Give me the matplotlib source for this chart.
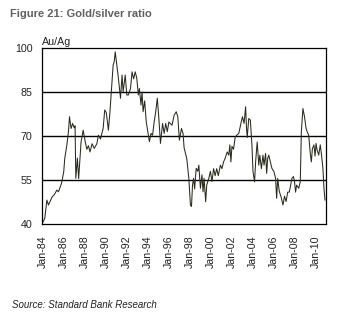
import matplotlib
matplotlib.use("Agg")
import matplotlib.pyplot as plt

plt.rcParams["font.family"] = ["Liberation Sans", "DejaVu Sans"]

# gold/silver ratio, decimal year -> ratio
years = [
    1984.0, 1984.2, 1984.4, 1984.55, 1984.9, 1985.1, 1985.35, 1985.5, 1985.67, 1985.8,
    1986.0, 1986.1, 1986.3, 1986.45, 1986.55, 1986.7, 1986.85, 1987.0, 1987.08, 1987.15,
    1987.3, 1987.42, 1987.55, 1987.65, 1987.85, 1988.05, 1988.2, 1988.35, 1988.5, 1988.7,
    1988.9, 1989.15, 1989.3, 1989.5, 1989.75, 1989.9, 1990.05, 1990.25, 1990.4, 1990.55,
    1990.7, 1990.8, 1990.9, 1991.05, 1991.2, 1991.4, 1991.55, 1991.65, 1991.85, 1992.0,
    1992.15, 1992.35, 1992.5, 1992.65, 1992.8, 1992.95, 1993.1, 1993.2, 1993.35, 1993.45,
    1993.55, 1993.7, 1993.85, 1994.0, 1994.15, 1994.3, 1994.45, 1994.6, 1994.75, 1994.9,
    1995.05, 1995.2, 1995.4, 1995.55, 1995.7, 1995.85, 1996.0, 1996.3, 1996.5, 1996.7,
    1996.85, 1997.0, 1997.1, 1997.2, 1997.35, 1997.45, 1997.55, 1997.7, 1997.9, 1998.05,
    1998.15, 1998.25, 1998.35, 1998.45, 1998.6, 1998.75, 1998.85, 1999.0, 1999.15, 1999.25,
    1999.35, 1999.5, 1999.6, 1999.8, 1999.95, 2000.1, 2000.25, 2000.4, 2000.55, 2000.7,
    2000.9, 2001.05, 2001.2, 2001.35, 2001.55, 2001.7, 2001.8, 2001.9, 2002.0, 2002.15,
    2002.3, 2002.45, 2002.65, 2002.85, 2003.0, 2003.15, 2003.3, 2003.38, 2003.45, 2003.6,
    2003.75, 2003.9, 2004.0, 2004.15, 2004.25, 2004.4, 2004.55, 2004.65, 2004.8, 2004.95,
    2005.05, 2005.2, 2005.3, 2005.4, 2005.5, 2005.65, 2005.8, 2006.0, 2006.15, 2006.25,
    2006.35, 2006.5, 2006.7, 2006.85, 2007.0, 2007.15, 2007.3, 2007.45, 2007.55, 2007.7,
    2007.85, 2007.95, 2008.05, 2008.15, 2008.35, 2008.5, 2008.6, 2008.75, 2008.9, 2009.05,
    2009.15, 2009.3, 2009.45, 2009.55, 2009.65, 2009.8, 2009.9, 2010.0, 2010.1, 2010.25,
    2010.4, 2010.52, 2010.65, 2010.75, 2010.85,
]
ratio = [
    40.5, 42.0, 48.2, 46.5, 49.3, 50.0, 51.6, 51.0, 52.7, 54.0,
    57.8, 62.4, 67.0, 71.5, 76.6, 72.6, 74.3, 72.8, 73.5, 55.6,
    62.5, 55.5, 62.4, 68.0, 72.0, 68.0, 65.5, 66.7, 64.6, 67.4,
    65.8, 67.4, 70.3, 69.0, 72.6, 78.9, 78.0, 72.0, 78.4, 86.3,
    94.2, 95.3, 98.7, 94.2, 89.7, 82.9, 90.8, 85.1, 90.8, 84.0,
    84.0, 86.2, 91.9, 89.5, 91.9, 89.7, 84.0, 86.2, 80.6, 85.0,
    78.3, 82.0, 74.8, 71.4, 68.1, 70.9, 70.3, 74.8, 78.3, 82.9,
    76.0, 67.5, 74.3, 70.9, 74.3, 71.5, 74.8, 73.7, 77.1, 78.3,
    76.6, 68.6, 70.5, 72.6, 70.9, 66.0, 64.6, 62.4, 55.6, 46.5,
    46.0, 53.3, 55.6, 52.0, 59.0, 58.0, 60.1, 52.2, 56.8, 51.0,
    55.6, 47.6, 53.3, 55.6, 58.0, 54.5, 58.9, 56.5, 58.9, 56.5,
    60.1, 58.9, 61.2, 62.4, 64.6, 63.5, 67.0, 61.2, 66.5, 65.5,
    69.5, 70.3, 70.9, 74.3, 76.6, 74.3, 80.0, 73.0, 69.5, 76.0,
    75.4, 67.0, 58.0, 54.4, 61.2, 68.0, 60.1, 63.5, 58.9, 63.5,
    60.1, 64.1, 57.3, 62.4, 63.5, 61.2, 59.0, 57.8, 55.6, 48.8,
    55.6, 51.2, 48.9, 46.5, 49.5, 47.7, 50.9, 50.9, 52.6, 55.6,
    56.2, 54.5, 50.9, 53.3, 52.2, 54.5, 71.5, 79.4, 76.6, 72.6,
    71.5, 70.3, 64.1, 61.2, 65.7, 67.0, 63.2, 67.5, 65.2, 63.5,
    67.0, 63.5, 59.0, 52.2, 48.2,
]

tick_years = list(range(1984, 2011, 2))
tick_labels = ["Jan-%02d" % (y % 100) for y in tick_years]

fig = plt.figure(figsize=(3.4, 3.36), dpi=100)
ax = fig.add_axes([0.124, 0.333, 0.835, 0.524])

ax.plot(years, ratio, color="#2a2a1c", lw=0.75)

ax.set_xlim(1983.95, 2010.95)
ax.set_ylim(40, 100)
ax.set_yticks([40, 55, 70, 85, 100])
ax.set_xticks(tick_years)
ax.set_xticklabels(tick_labels, rotation=90)
ax.tick_params(length=0, labelsize=7.7, colors="#222222", pad=7)
ax.tick_params(axis="x", pad=8)

for v in [55, 70, 85]:
    ax.axhline(v, color="black", lw=1.0, zorder=0)
for s in ax.spines.values():
    s.set_linewidth(0.9)

ax.text(0.0, 1.005, "Au/Ag", transform=ax.transAxes, fontsize=7.7,
        color="#222222", ha="left", va="bottom")

fig.text(0.03, 0.949, "Figure 21: Gold/silver ratio", fontsize=8,
         fontweight="bold", color="#606060", ha="left", va="baseline")
fig.text(0.035, 0.083, "Source: Standard Bank Research", fontsize=7,
         style="italic", color="#222222", ha="left", va="baseline")

fig.savefig("out.png", dpi=100)
